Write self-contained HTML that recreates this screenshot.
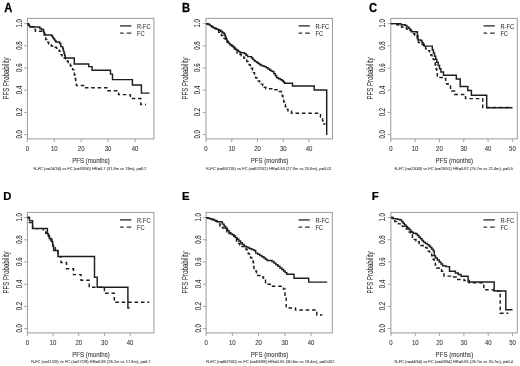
<!DOCTYPE html>
<html><head><meta charset="utf-8"><style>
html,body{margin:0;padding:0;background:#fff;}
body{width:520px;height:366px;overflow:hidden;}
svg{display:block;font-family:"Liberation Sans", sans-serif;filter:grayscale(1) blur(0.45px);}
</style></head><body>
<svg width="520" height="366" viewBox="0 0 520 366">
<rect width="520" height="366" fill="#fff"/>
<rect x="27.4" y="18.4" width="126.5" height="120.5" fill="none" stroke="#9a9a9a" stroke-width="1"/>
<line x1="24.2" y1="134.6" x2="27.4" y2="134.6" stroke="#9a9a9a" stroke-width="0.9"/>
<text transform="translate(21.8 134.3) rotate(-90) scale(1 1.36)" font-size="6.1" text-anchor="middle" fill="#333" stroke="#333" stroke-width="0.06">0.0</text>
<line x1="24.2" y1="112.4" x2="27.4" y2="112.4" stroke="#9a9a9a" stroke-width="0.9"/>
<text transform="translate(21.8 112.1) rotate(-90) scale(1 1.36)" font-size="6.1" text-anchor="middle" fill="#333" stroke="#333" stroke-width="0.06">0.2</text>
<line x1="24.2" y1="90.2" x2="27.4" y2="90.2" stroke="#9a9a9a" stroke-width="0.9"/>
<text transform="translate(21.8 89.9) rotate(-90) scale(1 1.36)" font-size="6.1" text-anchor="middle" fill="#333" stroke="#333" stroke-width="0.06">0.4</text>
<line x1="24.2" y1="68" x2="27.4" y2="68" stroke="#9a9a9a" stroke-width="0.9"/>
<text transform="translate(21.8 67.7) rotate(-90) scale(1 1.36)" font-size="6.1" text-anchor="middle" fill="#333" stroke="#333" stroke-width="0.06">0.6</text>
<line x1="24.2" y1="45.8" x2="27.4" y2="45.8" stroke="#9a9a9a" stroke-width="0.9"/>
<text transform="translate(21.8 45.5) rotate(-90) scale(1 1.36)" font-size="6.1" text-anchor="middle" fill="#333" stroke="#333" stroke-width="0.06">0.8</text>
<line x1="24.2" y1="23.6" x2="27.4" y2="23.6" stroke="#9a9a9a" stroke-width="0.9"/>
<text transform="translate(21.8 23.3) rotate(-90) scale(1 1.36)" font-size="6.1" text-anchor="middle" fill="#333" stroke="#333" stroke-width="0.06">1.0</text>
<line x1="27.4" y1="138.9" x2="27.4" y2="142.1" stroke="#9a9a9a" stroke-width="0.9"/>
<text transform="translate(27.4 150.75) scale(1 1.22)" font-size="6" text-anchor="middle" fill="#333" stroke="#333" stroke-width="0.06">0</text>
<line x1="54.3" y1="138.9" x2="54.3" y2="142.1" stroke="#9a9a9a" stroke-width="0.9"/>
<text transform="translate(54.3 150.75) scale(1 1.22)" font-size="6" text-anchor="middle" fill="#333" stroke="#333" stroke-width="0.06">10</text>
<line x1="81.2" y1="138.9" x2="81.2" y2="142.1" stroke="#9a9a9a" stroke-width="0.9"/>
<text transform="translate(81.2 150.75) scale(1 1.22)" font-size="6" text-anchor="middle" fill="#333" stroke="#333" stroke-width="0.06">20</text>
<line x1="108.1" y1="138.9" x2="108.1" y2="142.1" stroke="#9a9a9a" stroke-width="0.9"/>
<text transform="translate(108.1 150.75) scale(1 1.22)" font-size="6" text-anchor="middle" fill="#333" stroke="#333" stroke-width="0.06">30</text>
<line x1="135" y1="138.9" x2="135" y2="142.1" stroke="#9a9a9a" stroke-width="0.9"/>
<text transform="translate(135 150.75) scale(1 1.22)" font-size="6" text-anchor="middle" fill="#333" stroke="#333" stroke-width="0.06">40</text>
<text transform="translate(90.95 162.6) scale(1 1.22)" font-size="6.1" text-anchor="middle" fill="#333" stroke="#333" stroke-width="0.06">PFS (months)</text>
<text transform="translate(9.3 78.5) rotate(-90) scale(1 1.4)" font-size="6.1" text-anchor="middle" fill="#333" stroke="#333" stroke-width="0.06">PFS Probability</text>
<text transform="translate(33.5 169.5)" font-size="4.1" fill="#555" stroke="#555" stroke-width="0.12" textLength="113" lengthAdjust="spacingAndGlyphs">R-FC (n=24/34) vs FC (n=33/50) HR=0.7 (31.8m vs 19m), p=0.2</text>
<text transform="translate(4.3 11.5) scale(1 1.07)" font-size="11.2" font-weight="bold" fill="#000" stroke="#000" stroke-width="0.25">A</text>
<line x1="120.1" y1="25.9" x2="131.4" y2="25.9" stroke="#303030" stroke-width="1.35"/>
<path d="M120.1 33.1h3.6M126.7 33.1h4.6" stroke="#303030" stroke-width="1.35"/>
<text transform="translate(137 28.5) scale(1 1.22)" font-size="5.7" fill="#333" stroke="#333" stroke-width="0.06">R-FC</text>
<text transform="translate(137 35.7) scale(1 1.22)" font-size="5.7" fill="#333" stroke="#333" stroke-width="0.06">FC</text>
<path d="M27.4 23.6H28.7V25.2H30V26.8H33.8V29.5H35.5V31.2H39.5V31.3H43.3V32H44.3V38H45.65V39.5H47V41H47.83V42.33H48.67V43.67H49.5V45H51.2V46H55V47.3H56.5V48.3H58.3V49.3H59.2V51.07H60.1V52.83H61V54.6H62.1V55.73H63.2V56.87H64.3V58H65.6V59.5H66.9V61H68.2V62.5H69.3V64.28H70.4V66.06H71.5V67.84H72.6V69.62H73.7V71.4H74.38V74.93H75.05V78.45H75.73V81.97H76.4V85.5H84.8V87.8H107.7V90.8H118.6V94.6H130.4V98.5H140.8V104.4H146" fill="none" stroke="#1e1e1e" stroke-width="1.45" stroke-dasharray="3.6 2.8"/>
<path d="M27.4 23.6H28.23V24.73H29.07V25.87H29.9V27H39.8V28.4H41.4V29.5H43.6V31.5H44.03V32.63H44.47V33.77H44.9V34.9H51.8V36.2H52.8V37.65H53.8V39.1H54.8V40.55H55.8V42H59.6V43.5H60.8V46.6H62.7V48.5H63.35V50.88H64V53.25H64.65V55.62H65.3V58H74.3V63.9H88.7V66.6H92.1V70.3H110.5V74.1H112.5V79.6H132.4V85H141.4V93.1H149.5" fill="none" stroke="#1e1e1e" stroke-width="1.45"/>
<rect x="206" y="18.4" width="126.4" height="120.5" fill="none" stroke="#9a9a9a" stroke-width="1"/>
<line x1="202.8" y1="134.6" x2="206" y2="134.6" stroke="#9a9a9a" stroke-width="0.9"/>
<text transform="translate(200.4 134.3) rotate(-90) scale(1 1.36)" font-size="6.1" text-anchor="middle" fill="#333" stroke="#333" stroke-width="0.06">0.0</text>
<line x1="202.8" y1="112.4" x2="206" y2="112.4" stroke="#9a9a9a" stroke-width="0.9"/>
<text transform="translate(200.4 112.1) rotate(-90) scale(1 1.36)" font-size="6.1" text-anchor="middle" fill="#333" stroke="#333" stroke-width="0.06">0.2</text>
<line x1="202.8" y1="90.2" x2="206" y2="90.2" stroke="#9a9a9a" stroke-width="0.9"/>
<text transform="translate(200.4 89.9) rotate(-90) scale(1 1.36)" font-size="6.1" text-anchor="middle" fill="#333" stroke="#333" stroke-width="0.06">0.4</text>
<line x1="202.8" y1="68" x2="206" y2="68" stroke="#9a9a9a" stroke-width="0.9"/>
<text transform="translate(200.4 67.7) rotate(-90) scale(1 1.36)" font-size="6.1" text-anchor="middle" fill="#333" stroke="#333" stroke-width="0.06">0.6</text>
<line x1="202.8" y1="45.8" x2="206" y2="45.8" stroke="#9a9a9a" stroke-width="0.9"/>
<text transform="translate(200.4 45.5) rotate(-90) scale(1 1.36)" font-size="6.1" text-anchor="middle" fill="#333" stroke="#333" stroke-width="0.06">0.8</text>
<line x1="202.8" y1="23.6" x2="206" y2="23.6" stroke="#9a9a9a" stroke-width="0.9"/>
<text transform="translate(200.4 23.3) rotate(-90) scale(1 1.36)" font-size="6.1" text-anchor="middle" fill="#333" stroke="#333" stroke-width="0.06">1.0</text>
<line x1="206" y1="138.9" x2="206" y2="142.1" stroke="#9a9a9a" stroke-width="0.9"/>
<text transform="translate(206 150.75) scale(1 1.22)" font-size="6" text-anchor="middle" fill="#333" stroke="#333" stroke-width="0.06">0</text>
<line x1="231.75" y1="138.9" x2="231.75" y2="142.1" stroke="#9a9a9a" stroke-width="0.9"/>
<text transform="translate(231.75 150.75) scale(1 1.22)" font-size="6" text-anchor="middle" fill="#333" stroke="#333" stroke-width="0.06">10</text>
<line x1="257.5" y1="138.9" x2="257.5" y2="142.1" stroke="#9a9a9a" stroke-width="0.9"/>
<text transform="translate(257.5 150.75) scale(1 1.22)" font-size="6" text-anchor="middle" fill="#333" stroke="#333" stroke-width="0.06">20</text>
<line x1="283.25" y1="138.9" x2="283.25" y2="142.1" stroke="#9a9a9a" stroke-width="0.9"/>
<text transform="translate(283.25 150.75) scale(1 1.22)" font-size="6" text-anchor="middle" fill="#333" stroke="#333" stroke-width="0.06">30</text>
<line x1="309" y1="138.9" x2="309" y2="142.1" stroke="#9a9a9a" stroke-width="0.9"/>
<text transform="translate(309 150.75) scale(1 1.22)" font-size="6" text-anchor="middle" fill="#333" stroke="#333" stroke-width="0.06">40</text>
<text transform="translate(269.5 162.6) scale(1 1.22)" font-size="6.1" text-anchor="middle" fill="#333" stroke="#333" stroke-width="0.06">PFS (months)</text>
<text transform="translate(187.9 78.5) rotate(-90) scale(1 1.4)" font-size="6.1" text-anchor="middle" fill="#333" stroke="#333" stroke-width="0.06">PFS Probability</text>
<text transform="translate(206 169.5)" font-size="4.1" fill="#555" stroke="#555" stroke-width="0.12" textLength="125.6" lengthAdjust="spacingAndGlyphs">R-FC (n=65/116) vs FC (n=62/102) HR=0.63 (27.3m vs 20.6m), p=0.01</text>
<text transform="translate(182 11.5) scale(1 1.07)" font-size="11.2" font-weight="bold" fill="#000" stroke="#000" stroke-width="0.25">B</text>
<line x1="298.6" y1="25.9" x2="309.9" y2="25.9" stroke="#303030" stroke-width="1.35"/>
<path d="M298.6 33.1h3.6M305.2 33.1h4.6" stroke="#303030" stroke-width="1.35"/>
<text transform="translate(315.5 28.5) scale(1 1.22)" font-size="5.7" fill="#333" stroke="#333" stroke-width="0.06">R-FC</text>
<text transform="translate(315.5 35.7) scale(1 1.22)" font-size="5.7" fill="#333" stroke="#333" stroke-width="0.06">FC</text>
<path d="M206 23.6H207.25V24.05H208.5V24.5H210.07V25.6H211.63V26.7H213.2V27.8H214.6V28.35H216V28.9H217.35V30.6H218.7V32.3H220.07V33.9H221.43V35.5H222.8V37.1H224.15V38.55H225.5V40H227V41.75H228.5V43.5H230V44.67H231.5V45.83H233V47H234.4V48.9H235.8V50.8H237V53.8H240V54.5H241.33V55.77H242.67V57.03H244V58.3H245.33V59.87H246.67V61.43H248V63H249.12V64.75H250.25V66.5H251.38V68.25H252.5V70H253.5V72.6H254.5V75.2H255.5V77.8H256.87V79.4H258.23V81H259.6V82.6H261.15V84.12H262.7V85.65H264.25V87.17H265.8V88.7H272.5V89.8H279V91.5H281.5V93H282.23V96H282.97V99H283.7V102H284.53V104.43H285.37V106.87H286.2V109.3H288V111H291.5V113.3H320.5V117H321.55V119H322.6V121H323V124H325.5" fill="none" stroke="#1e1e1e" stroke-width="1.45" stroke-dasharray="3.6 2.8"/>
<path d="M206 23.6H207.25V24.05H208.5V24.5H210.07V25.6H211.63V26.7H213.2V27.8H214.75V28.43H216.3V29.05H217.85V29.68H219.4V30.3H220.75V31.3H222.1V32.3H223.15V33H224.2V33.7H224.85V35.4H225.5V37.1H226.2V38.93H226.9V40.77H227.6V42.6H228.95V43.6H230.3V44.6H231.68V45.8H233.05V47H234.43V48.2H235.8V49.4H237V50.25H238.2V51.1H239.4V51.95H240.6V52.8H244.5V53.8H246.05V55.2H247.6V56.6H251.6V58H252.85V59.35H254.1V60.7H255.47V61.6H256.83V62.5H258.2V63.4H259.6V64.45H261V65.5H262.7V66.05H264.4V66.6H266.23V67.83H268.07V69.07H269.9V70.3H271.25V70.95H272.6V71.6H273.97V73.67H275.33V75.73H276.7V77.8H278.53V78.8H280.37V79.8H282.2V80.8H283.4V82.05H284.6V83.3H292.5V85.9H314.2V90H326.7V135" fill="none" stroke="#1e1e1e" stroke-width="1.45"/>
<rect x="390.8" y="18.4" width="126.5" height="120.5" fill="none" stroke="#9a9a9a" stroke-width="1"/>
<line x1="387.6" y1="134.6" x2="390.8" y2="134.6" stroke="#9a9a9a" stroke-width="0.9"/>
<text transform="translate(385.2 134.3) rotate(-90) scale(1 1.36)" font-size="6.1" text-anchor="middle" fill="#333" stroke="#333" stroke-width="0.06">0.0</text>
<line x1="387.6" y1="112.4" x2="390.8" y2="112.4" stroke="#9a9a9a" stroke-width="0.9"/>
<text transform="translate(385.2 112.1) rotate(-90) scale(1 1.36)" font-size="6.1" text-anchor="middle" fill="#333" stroke="#333" stroke-width="0.06">0.2</text>
<line x1="387.6" y1="90.2" x2="390.8" y2="90.2" stroke="#9a9a9a" stroke-width="0.9"/>
<text transform="translate(385.2 89.9) rotate(-90) scale(1 1.36)" font-size="6.1" text-anchor="middle" fill="#333" stroke="#333" stroke-width="0.06">0.4</text>
<line x1="387.6" y1="68" x2="390.8" y2="68" stroke="#9a9a9a" stroke-width="0.9"/>
<text transform="translate(385.2 67.7) rotate(-90) scale(1 1.36)" font-size="6.1" text-anchor="middle" fill="#333" stroke="#333" stroke-width="0.06">0.6</text>
<line x1="387.6" y1="45.8" x2="390.8" y2="45.8" stroke="#9a9a9a" stroke-width="0.9"/>
<text transform="translate(385.2 45.5) rotate(-90) scale(1 1.36)" font-size="6.1" text-anchor="middle" fill="#333" stroke="#333" stroke-width="0.06">0.8</text>
<line x1="387.6" y1="23.6" x2="390.8" y2="23.6" stroke="#9a9a9a" stroke-width="0.9"/>
<text transform="translate(385.2 23.3) rotate(-90) scale(1 1.36)" font-size="6.1" text-anchor="middle" fill="#333" stroke="#333" stroke-width="0.06">1.0</text>
<line x1="390.8" y1="138.9" x2="390.8" y2="142.1" stroke="#9a9a9a" stroke-width="0.9"/>
<text transform="translate(390.8 150.75) scale(1 1.22)" font-size="6" text-anchor="middle" fill="#333" stroke="#333" stroke-width="0.06">0</text>
<line x1="415.12" y1="138.9" x2="415.12" y2="142.1" stroke="#9a9a9a" stroke-width="0.9"/>
<text transform="translate(415.12 150.75) scale(1 1.22)" font-size="6" text-anchor="middle" fill="#333" stroke="#333" stroke-width="0.06">10</text>
<line x1="439.44" y1="138.9" x2="439.44" y2="142.1" stroke="#9a9a9a" stroke-width="0.9"/>
<text transform="translate(439.44 150.75) scale(1 1.22)" font-size="6" text-anchor="middle" fill="#333" stroke="#333" stroke-width="0.06">20</text>
<line x1="463.76" y1="138.9" x2="463.76" y2="142.1" stroke="#9a9a9a" stroke-width="0.9"/>
<text transform="translate(463.76 150.75) scale(1 1.22)" font-size="6" text-anchor="middle" fill="#333" stroke="#333" stroke-width="0.06">30</text>
<line x1="488.08" y1="138.9" x2="488.08" y2="142.1" stroke="#9a9a9a" stroke-width="0.9"/>
<text transform="translate(488.08 150.75) scale(1 1.22)" font-size="6" text-anchor="middle" fill="#333" stroke="#333" stroke-width="0.06">40</text>
<line x1="512.4" y1="138.9" x2="512.4" y2="142.1" stroke="#9a9a9a" stroke-width="0.9"/>
<text transform="translate(512.4 150.75) scale(1 1.22)" font-size="6" text-anchor="middle" fill="#333" stroke="#333" stroke-width="0.06">50</text>
<text transform="translate(454.35 162.6) scale(1 1.22)" font-size="6.1" text-anchor="middle" fill="#333" stroke="#333" stroke-width="0.06">PFS (months)</text>
<text transform="translate(372.7 78.5) rotate(-90) scale(1 1.4)" font-size="6.1" text-anchor="middle" fill="#333" stroke="#333" stroke-width="0.06">PFS Probability</text>
<text transform="translate(394.5 169.5)" font-size="4.1" fill="#555" stroke="#555" stroke-width="0.12" textLength="118.5" lengthAdjust="spacingAndGlyphs">R-FC (n=23/40) vs FC (n=26/51) HR=0.82 (25.7m vs 22.4m), p=0.5</text>
<text transform="translate(369 11.5) scale(1 1.07)" font-size="11.2" font-weight="bold" fill="#000" stroke="#000" stroke-width="0.25">C</text>
<line x1="483.5" y1="25.9" x2="494.8" y2="25.9" stroke="#303030" stroke-width="1.35"/>
<path d="M483.5 33.1h3.6M490.1 33.1h4.6" stroke="#303030" stroke-width="1.35"/>
<text transform="translate(500.4 28.5) scale(1 1.22)" font-size="5.7" fill="#333" stroke="#333" stroke-width="0.06">R-FC</text>
<text transform="translate(500.4 35.7) scale(1 1.22)" font-size="5.7" fill="#333" stroke="#333" stroke-width="0.06">FC</text>
<path d="M390.8 23.6H396V24.8H400V26.5H402V27.25H404V28H406.5V29.07H409V30.13H411.5V31.2H413.5V33.8H414.75V35.15H416V36.5H417.25V39.55H418.5V42.6H421V44.3H423.3V46.5H425.6V48.7H427.55V50.6H429.5V52.5H430.75V54.9H432V57.3H433.25V59.4H434.5V61.5H435.25V65H436V68.5H436.65V73H437.3V77.5H444.3V78.5H445.7V83.8H448.1V86.05H450.5V88.3H451.9V91H454.6V94.4H465.5V98.6H482.7V107.5H512.3" fill="none" stroke="#1e1e1e" stroke-width="1.45" stroke-dasharray="3.6 2.8"/>
<path d="M390.8 23.6H401V24.8H405.1V25.5H406.8V26.85H408.5V28.2H409.85V29.95H411.2V31.7H416.7V32H417.4V35.8H418V39.9H420.8V40.5H421.93V42.37H423.07V44.23H424.2V46.1H432.3V50H433.43V53.08H434.55V56.15H435.68V59.22H436.8V62.3H438.17V65.5H439.53V68.7H440.9V71.9H443.5V75.3H456.3V79H460.2V86.5H467.8V90.5H471.4V95.2H486.7V107.8H512.3" fill="none" stroke="#1e1e1e" stroke-width="1.45"/>
<rect x="27.4" y="212.4" width="126.5" height="120.5" fill="none" stroke="#9a9a9a" stroke-width="1"/>
<line x1="24.2" y1="328.6" x2="27.4" y2="328.6" stroke="#9a9a9a" stroke-width="0.9"/>
<text transform="translate(21.8 328.3) rotate(-90) scale(1 1.36)" font-size="6.1" text-anchor="middle" fill="#333" stroke="#333" stroke-width="0.06">0.0</text>
<line x1="24.2" y1="306.4" x2="27.4" y2="306.4" stroke="#9a9a9a" stroke-width="0.9"/>
<text transform="translate(21.8 306.1) rotate(-90) scale(1 1.36)" font-size="6.1" text-anchor="middle" fill="#333" stroke="#333" stroke-width="0.06">0.2</text>
<line x1="24.2" y1="284.2" x2="27.4" y2="284.2" stroke="#9a9a9a" stroke-width="0.9"/>
<text transform="translate(21.8 283.9) rotate(-90) scale(1 1.36)" font-size="6.1" text-anchor="middle" fill="#333" stroke="#333" stroke-width="0.06">0.4</text>
<line x1="24.2" y1="262" x2="27.4" y2="262" stroke="#9a9a9a" stroke-width="0.9"/>
<text transform="translate(21.8 261.7) rotate(-90) scale(1 1.36)" font-size="6.1" text-anchor="middle" fill="#333" stroke="#333" stroke-width="0.06">0.6</text>
<line x1="24.2" y1="239.8" x2="27.4" y2="239.8" stroke="#9a9a9a" stroke-width="0.9"/>
<text transform="translate(21.8 239.5) rotate(-90) scale(1 1.36)" font-size="6.1" text-anchor="middle" fill="#333" stroke="#333" stroke-width="0.06">0.8</text>
<line x1="24.2" y1="217.6" x2="27.4" y2="217.6" stroke="#9a9a9a" stroke-width="0.9"/>
<text transform="translate(21.8 217.3) rotate(-90) scale(1 1.36)" font-size="6.1" text-anchor="middle" fill="#333" stroke="#333" stroke-width="0.06">1.0</text>
<line x1="27.4" y1="332.9" x2="27.4" y2="336.1" stroke="#9a9a9a" stroke-width="0.9"/>
<text transform="translate(27.4 344.75) scale(1 1.22)" font-size="6" text-anchor="middle" fill="#333" stroke="#333" stroke-width="0.06">0</text>
<line x1="53.08" y1="332.9" x2="53.08" y2="336.1" stroke="#9a9a9a" stroke-width="0.9"/>
<text transform="translate(53.08 344.75) scale(1 1.22)" font-size="6" text-anchor="middle" fill="#333" stroke="#333" stroke-width="0.06">10</text>
<line x1="78.76" y1="332.9" x2="78.76" y2="336.1" stroke="#9a9a9a" stroke-width="0.9"/>
<text transform="translate(78.76 344.75) scale(1 1.22)" font-size="6" text-anchor="middle" fill="#333" stroke="#333" stroke-width="0.06">20</text>
<line x1="104.44" y1="332.9" x2="104.44" y2="336.1" stroke="#9a9a9a" stroke-width="0.9"/>
<text transform="translate(104.44 344.75) scale(1 1.22)" font-size="6" text-anchor="middle" fill="#333" stroke="#333" stroke-width="0.06">30</text>
<line x1="130.12" y1="332.9" x2="130.12" y2="336.1" stroke="#9a9a9a" stroke-width="0.9"/>
<text transform="translate(130.12 344.75) scale(1 1.22)" font-size="6" text-anchor="middle" fill="#333" stroke="#333" stroke-width="0.06">40</text>
<text transform="translate(90.95 356.7) scale(1 1.22)" font-size="6.1" text-anchor="middle" fill="#333" stroke="#333" stroke-width="0.06">PFS (months)</text>
<text transform="translate(9.3 272.5) rotate(-90) scale(1 1.4)" font-size="6.1" text-anchor="middle" fill="#333" stroke="#333" stroke-width="0.06">PFS Probability</text>
<text transform="translate(30.9 363)" font-size="4.1" fill="#555" stroke="#555" stroke-width="0.12" textLength="119.7" lengthAdjust="spacingAndGlyphs">R-FC (n=11/20) vs FC (n=17/29) HR=0.93 (26.2m vs 17.8m), p=0.7</text>
<text transform="translate(3.3 200.3) scale(1 0.99)" font-size="11.3" font-weight="bold" fill="#000" stroke="#000" stroke-width="0.25">D</text>
<line x1="120.1" y1="219.9" x2="131.4" y2="219.9" stroke="#303030" stroke-width="1.35"/>
<path d="M120.1 227.1h3.6M126.7 227.1h4.6" stroke="#303030" stroke-width="1.35"/>
<text transform="translate(137 222.5) scale(1 1.22)" font-size="5.7" fill="#333" stroke="#333" stroke-width="0.06">R-FC</text>
<text transform="translate(137 229.7) scale(1 1.22)" font-size="5.7" fill="#333" stroke="#333" stroke-width="0.06">FC</text>
<path d="M27.4 217.4H29.3V222.5H32.6V228.6H43.4V231.4H45.7V233.3H47.5V234H48.55V236.25H49.6V238.5H51.5V241.6H52.7V245.5H55.4V250.5H58.1V256.6H61V262.5H66.5V268.7H73.5V274.6H81V280.2H89.2V287.2H104.4V293.3H114.3V302.3H149.2" fill="none" stroke="#1e1e1e" stroke-width="1.45" stroke-dasharray="3.6 2.8"/>
<path d="M27.4 217.4H29.5V220.6H32.6V228.4H47.4V233.7H48.3V235.5H49.2V238.5H50.5V240H51.9V241.8H52.7V246H53.6V250.4H58V256.4H94.5V277.3H97.2V287.2H127.9V308H129.5" fill="none" stroke="#1e1e1e" stroke-width="1.45"/>
<rect x="206.1" y="212.4" width="126.2" height="120.5" fill="none" stroke="#9a9a9a" stroke-width="1"/>
<line x1="202.9" y1="328.6" x2="206.1" y2="328.6" stroke="#9a9a9a" stroke-width="0.9"/>
<text transform="translate(200.5 328.3) rotate(-90) scale(1 1.36)" font-size="6.1" text-anchor="middle" fill="#333" stroke="#333" stroke-width="0.06">0.0</text>
<line x1="202.9" y1="306.4" x2="206.1" y2="306.4" stroke="#9a9a9a" stroke-width="0.9"/>
<text transform="translate(200.5 306.1) rotate(-90) scale(1 1.36)" font-size="6.1" text-anchor="middle" fill="#333" stroke="#333" stroke-width="0.06">0.2</text>
<line x1="202.9" y1="284.2" x2="206.1" y2="284.2" stroke="#9a9a9a" stroke-width="0.9"/>
<text transform="translate(200.5 283.9) rotate(-90) scale(1 1.36)" font-size="6.1" text-anchor="middle" fill="#333" stroke="#333" stroke-width="0.06">0.4</text>
<line x1="202.9" y1="262" x2="206.1" y2="262" stroke="#9a9a9a" stroke-width="0.9"/>
<text transform="translate(200.5 261.7) rotate(-90) scale(1 1.36)" font-size="6.1" text-anchor="middle" fill="#333" stroke="#333" stroke-width="0.06">0.6</text>
<line x1="202.9" y1="239.8" x2="206.1" y2="239.8" stroke="#9a9a9a" stroke-width="0.9"/>
<text transform="translate(200.5 239.5) rotate(-90) scale(1 1.36)" font-size="6.1" text-anchor="middle" fill="#333" stroke="#333" stroke-width="0.06">0.8</text>
<line x1="202.9" y1="217.6" x2="206.1" y2="217.6" stroke="#9a9a9a" stroke-width="0.9"/>
<text transform="translate(200.5 217.3) rotate(-90) scale(1 1.36)" font-size="6.1" text-anchor="middle" fill="#333" stroke="#333" stroke-width="0.06">1.0</text>
<line x1="206.1" y1="332.9" x2="206.1" y2="336.1" stroke="#9a9a9a" stroke-width="0.9"/>
<text transform="translate(206.1 344.75) scale(1 1.22)" font-size="6" text-anchor="middle" fill="#333" stroke="#333" stroke-width="0.06">0</text>
<line x1="232.35" y1="332.9" x2="232.35" y2="336.1" stroke="#9a9a9a" stroke-width="0.9"/>
<text transform="translate(232.35 344.75) scale(1 1.22)" font-size="6" text-anchor="middle" fill="#333" stroke="#333" stroke-width="0.06">10</text>
<line x1="258.6" y1="332.9" x2="258.6" y2="336.1" stroke="#9a9a9a" stroke-width="0.9"/>
<text transform="translate(258.6 344.75) scale(1 1.22)" font-size="6" text-anchor="middle" fill="#333" stroke="#333" stroke-width="0.06">20</text>
<line x1="284.85" y1="332.9" x2="284.85" y2="336.1" stroke="#9a9a9a" stroke-width="0.9"/>
<text transform="translate(284.85 344.75) scale(1 1.22)" font-size="6" text-anchor="middle" fill="#333" stroke="#333" stroke-width="0.06">30</text>
<line x1="311.1" y1="332.9" x2="311.1" y2="336.1" stroke="#9a9a9a" stroke-width="0.9"/>
<text transform="translate(311.1 344.75) scale(1 1.22)" font-size="6" text-anchor="middle" fill="#333" stroke="#333" stroke-width="0.06">40</text>
<text transform="translate(269.5 356.7) scale(1 1.22)" font-size="6.1" text-anchor="middle" fill="#333" stroke="#333" stroke-width="0.06">PFS (months)</text>
<text transform="translate(188 272.5) rotate(-90) scale(1 1.4)" font-size="6.1" text-anchor="middle" fill="#333" stroke="#333" stroke-width="0.06">PFS Probability</text>
<text transform="translate(206.2 363)" font-size="4.1" fill="#555" stroke="#555" stroke-width="0.12" textLength="128.2" lengthAdjust="spacingAndGlyphs">R-FC (n=60/100) vs FC (n=63/96) HR=0.55 (30.6m vs 18.4m), p=0.002</text>
<text transform="translate(182 200.3) scale(1 0.99)" font-size="11.3" font-weight="bold" fill="#000" stroke="#000" stroke-width="0.25">E</text>
<line x1="298.5" y1="219.9" x2="309.8" y2="219.9" stroke="#303030" stroke-width="1.35"/>
<path d="M298.5 227.1h3.6M305.1 227.1h4.6" stroke="#303030" stroke-width="1.35"/>
<text transform="translate(315.4 222.5) scale(1 1.22)" font-size="5.7" fill="#333" stroke="#333" stroke-width="0.06">R-FC</text>
<text transform="translate(315.4 229.7) scale(1 1.22)" font-size="5.7" fill="#333" stroke="#333" stroke-width="0.06">FC</text>
<path d="M206.1 217.6H208.05V218.25H210V218.9H211.95V219.55H213.9V220.2H215.6V221H217.3V221.8H218.7V224.05H220.1V226.3H222.5V228.05H224.9V229.8H226.95V231.65H229V233.5H231.35V235H233.7V236.5H235.07V238.8H236.43V241.1H237.8V243.4H239.9V244.95H242V246.5H244V248.05H246V249.6H247.13V251.63H248.27V253.67H249.4V255.7H250.6V257.8H251.8V259.9H253V262H253.5V266.5H254V271H256.5V275.5H260.6V277H263.5V280H265.5V284.3H271.2V286.3H283.5V289H285V297H286.2V308H295.5V310H316.8V314.9H322.3" fill="none" stroke="#1e1e1e" stroke-width="1.45" stroke-dasharray="3.6 2.8"/>
<path d="M206.1 217.6H208.05V218.25H210V218.9H211.95V219.55H213.9V220.2H215.6V221H217.3V221.8H220.8V222H222.44V224.1H224.08V226.2H225.72V228.3H227.36V230.4H229V232.5H230.57V233.63H232.13V234.77H233.7V235.9H235.42V237.62H237.13V239.33H238.85V241.05H240.57V242.77H242.28V244.48H244V246.2H246V247.06H248V247.92H250V248.78H252V249.64H254V250.5H255.7V253.1H257.75V254.32H259.8V255.55H261.85V256.77H263.9V258H265.5V259.25H267.1V260.5H272V261.5H273.98V263.1H275.96V264.7H277.94V266.3H279.92V267.9H281.9V269.5H283.53V271.07H285.17V272.63H286.8V274.2H294V278.2H308.7V282.1H327.2" fill="none" stroke="#1e1e1e" stroke-width="1.45"/>
<rect x="390.9" y="212.4" width="126.4" height="120.5" fill="none" stroke="#9a9a9a" stroke-width="1"/>
<line x1="387.7" y1="328.6" x2="390.9" y2="328.6" stroke="#9a9a9a" stroke-width="0.9"/>
<text transform="translate(385.3 328.3) rotate(-90) scale(1 1.36)" font-size="6.1" text-anchor="middle" fill="#333" stroke="#333" stroke-width="0.06">0.0</text>
<line x1="387.7" y1="306.4" x2="390.9" y2="306.4" stroke="#9a9a9a" stroke-width="0.9"/>
<text transform="translate(385.3 306.1) rotate(-90) scale(1 1.36)" font-size="6.1" text-anchor="middle" fill="#333" stroke="#333" stroke-width="0.06">0.2</text>
<line x1="387.7" y1="284.2" x2="390.9" y2="284.2" stroke="#9a9a9a" stroke-width="0.9"/>
<text transform="translate(385.3 283.9) rotate(-90) scale(1 1.36)" font-size="6.1" text-anchor="middle" fill="#333" stroke="#333" stroke-width="0.06">0.4</text>
<line x1="387.7" y1="262" x2="390.9" y2="262" stroke="#9a9a9a" stroke-width="0.9"/>
<text transform="translate(385.3 261.7) rotate(-90) scale(1 1.36)" font-size="6.1" text-anchor="middle" fill="#333" stroke="#333" stroke-width="0.06">0.6</text>
<line x1="387.7" y1="239.8" x2="390.9" y2="239.8" stroke="#9a9a9a" stroke-width="0.9"/>
<text transform="translate(385.3 239.5) rotate(-90) scale(1 1.36)" font-size="6.1" text-anchor="middle" fill="#333" stroke="#333" stroke-width="0.06">0.8</text>
<line x1="387.7" y1="217.6" x2="390.9" y2="217.6" stroke="#9a9a9a" stroke-width="0.9"/>
<text transform="translate(385.3 217.3) rotate(-90) scale(1 1.36)" font-size="6.1" text-anchor="middle" fill="#333" stroke="#333" stroke-width="0.06">1.0</text>
<line x1="390.9" y1="332.9" x2="390.9" y2="336.1" stroke="#9a9a9a" stroke-width="0.9"/>
<text transform="translate(390.9 344.75) scale(1 1.22)" font-size="6" text-anchor="middle" fill="#333" stroke="#333" stroke-width="0.06">0</text>
<line x1="415.24" y1="332.9" x2="415.24" y2="336.1" stroke="#9a9a9a" stroke-width="0.9"/>
<text transform="translate(415.24 344.75) scale(1 1.22)" font-size="6" text-anchor="middle" fill="#333" stroke="#333" stroke-width="0.06">10</text>
<line x1="439.58" y1="332.9" x2="439.58" y2="336.1" stroke="#9a9a9a" stroke-width="0.9"/>
<text transform="translate(439.58 344.75) scale(1 1.22)" font-size="6" text-anchor="middle" fill="#333" stroke="#333" stroke-width="0.06">20</text>
<line x1="463.92" y1="332.9" x2="463.92" y2="336.1" stroke="#9a9a9a" stroke-width="0.9"/>
<text transform="translate(463.92 344.75) scale(1 1.22)" font-size="6" text-anchor="middle" fill="#333" stroke="#333" stroke-width="0.06">30</text>
<line x1="488.26" y1="332.9" x2="488.26" y2="336.1" stroke="#9a9a9a" stroke-width="0.9"/>
<text transform="translate(488.26 344.75) scale(1 1.22)" font-size="6" text-anchor="middle" fill="#333" stroke="#333" stroke-width="0.06">40</text>
<line x1="512.6" y1="332.9" x2="512.6" y2="336.1" stroke="#9a9a9a" stroke-width="0.9"/>
<text transform="translate(512.6 344.75) scale(1 1.22)" font-size="6" text-anchor="middle" fill="#333" stroke="#333" stroke-width="0.06">50</text>
<text transform="translate(454.4 356.7) scale(1 1.22)" font-size="6.1" text-anchor="middle" fill="#333" stroke="#333" stroke-width="0.06">PFS (months)</text>
<text transform="translate(372.8 272.5) rotate(-90) scale(1 1.4)" font-size="6.1" text-anchor="middle" fill="#333" stroke="#333" stroke-width="0.06">PFS Probability</text>
<text transform="translate(394.5 363)" font-size="4.1" fill="#555" stroke="#555" stroke-width="0.12" textLength="118.5" lengthAdjust="spacingAndGlyphs">R-FC (n=44/64) vs FC (n=43/64) HR=0.85 (26.7m vs 20.7m), p=0.4</text>
<text transform="translate(371.7 200.3) scale(1 0.99)" font-size="11.3" font-weight="bold" fill="#000" stroke="#000" stroke-width="0.25">F</text>
<line x1="483.5" y1="219.9" x2="494.8" y2="219.9" stroke="#303030" stroke-width="1.35"/>
<path d="M483.5 227.1h3.6M490.1 227.1h4.6" stroke="#303030" stroke-width="1.35"/>
<text transform="translate(500.4 222.5) scale(1 1.22)" font-size="5.7" fill="#333" stroke="#333" stroke-width="0.06">R-FC</text>
<text transform="translate(500.4 229.7) scale(1 1.22)" font-size="5.7" fill="#333" stroke="#333" stroke-width="0.06">FC</text>
<path d="M390.9 217.5H392.85V219.55H394.8V221.6H396.63V222.73H398.47V223.87H400.3V225H402.33V226.37H404.37V227.73H406.4V229.1H408.45V231.95H410.5V234.8H412.4V237.15H414.3V239.5H415.95V240.65H417.6V241.8H419.2V243.65H420.8V245.5H423.2V246.5H425.6V247.5H426.97V249.33H428.33V251.17H429.7V253H431.7V255.7H432.9V258.95H434.1V262.2H435.35V265.1H436.6V268H439.05V269.6H441.5V271.2H442.7V273.65H443.9V276.1H450.5V277H456.2V279.4H464V280.5H469.3V282.8H483.8V289.7H494V290.9H500.2V313.2H508.3" fill="none" stroke="#1e1e1e" stroke-width="1.45" stroke-dasharray="3.6 2.8"/>
<path d="M390.9 217.5H392.2V218.05H393.5V218.6H395.77V219.03H398.03V219.47H400.3V219.9H401.67V221.6H403.03V223.3H404.4V225H405.92V226.53H407.45V228.05H408.98V229.57H410.5V231.1H411.9V232.15H413.3V233.2H416V233.9H417.5V235.54H419V237.18H420.5V238.82H422V240.46H423.5V242.1H425.33V243.37H427.17V244.63H429V245.9H430.43V247.57H431.87V249.23H433.3V250.9H434.2V255.7H435.5V258H437.3V260H439.2V262H441V264H442.6V265.8H445.8V266.6H449.5V271.2H455.4V272.9H458.2V274.5H461V276.3H468.1V281.9H494.2V290.9H505.8V309.7H512.5" fill="none" stroke="#1e1e1e" stroke-width="1.45"/>
</svg>
</body></html>
